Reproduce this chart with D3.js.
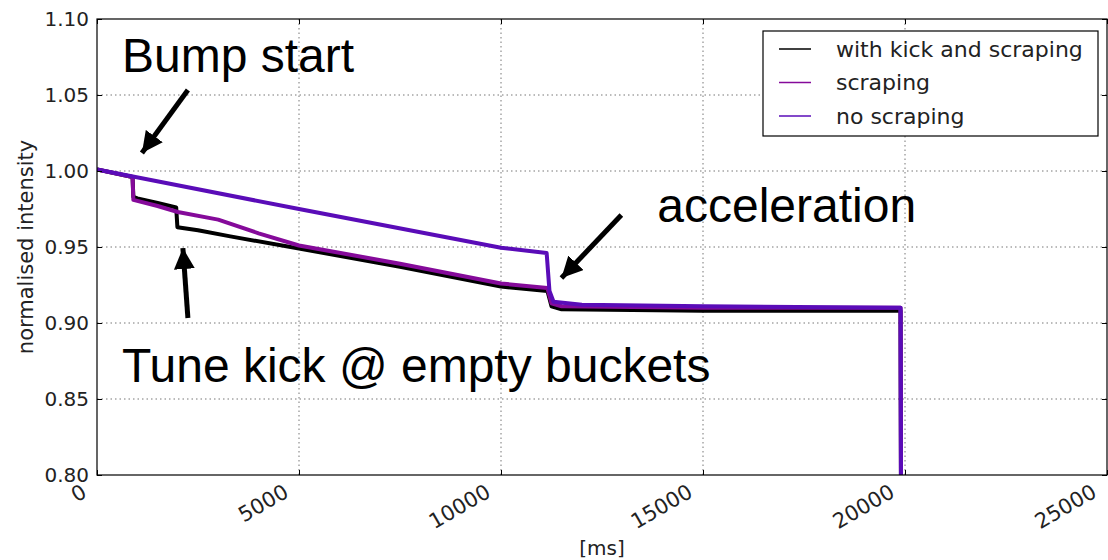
<!DOCTYPE html>
<html>
<head>
<meta charset="utf-8">
<script src="https://cdn.jsdelivr.net/npm/d3@7"></script>
<style>
  body { margin: 0; background: #fff; }
  svg { display: block; }
</style>
</head>
<body>
<script>
// series: [ms, normalised intensity]
const kickScraping = [
  [0, 1.001], [880, 0.996], [900, 0.983], [1000, 0.982], [1500, 0.979], [1960, 0.976],
  [1990, 0.963], [2500, 0.961], [3300, 0.957], [5000, 0.949], [7500, 0.937],
  [10000, 0.924], [11150, 0.921], [11250, 0.911], [11500, 0.909], [15000, 0.908],
  [19890, 0.908], [19900, 0.80]
];
const scraping = [
  [0, 1.001], [880, 0.996], [900, 0.981], [1500, 0.977], [2000, 0.973], [3000, 0.968],
  [4000, 0.959], [5000, 0.951], [7500, 0.939], [10000, 0.926], [11150, 0.923],
  [11250, 0.913], [11500, 0.911], [15000, 0.910], [19890, 0.910], [19900, 0.80]
];
const noScraping = [
  [0, 1.001], [5000, 0.975], [10000, 0.9495], [11130, 0.946], [11200, 0.921],
  [11300, 0.914], [12000, 0.912], [15000, 0.911], [19890, 0.910], [19900, 0.80]
];

const seriesNames = ["with kick and scraping", "scraping", "no scraping"];
const seriesColors = ["#000000", "#850a9a", "#5a0cb8"];
const xTicks = [0, 5000, 10000, 15000, 20000, 25000];
const yTicks = [0.80, 0.85, 0.90, 0.95, 1.00, 1.05, 1.10];

// annotations: text anchor and arrows (tail -> tip) in data units
const notes = [
  { text: "Bump start", at: [618, 1.0651] },
  { text: "acceleration", at: [13869, 0.9664] },
  { text: "Tune kick @ empty buckets", at: [618, 0.8612] }
];
const arrows = [
  { from: [2250, 1.0533], to: [1112, 1.0118] },
  { from: [12979, 0.971], to: [11496, 0.9296] },
  { from: [2250, 0.9033], to: [2126, 0.9493] }
];

const W = 1108, H = 560;
const pLeft = 97, pRight = 1107, pTop = 19, pBottom = 475;

const svg = d3.select("body").append("svg")
    .attr("width", W)
    .attr("height", H);

const x = d3.scaleLinear().domain([0, 25000]).range([pLeft, pRight]);
const y = d3.scaleLinear().domain([0.80, 1.10]).range([pBottom, pTop]);

const defs = svg.append("defs");
defs.append("clipPath").attr("id", "clip")
  .append("rect")
    .attr("x", pLeft).attr("y", pTop)
    .attr("width", pRight - pLeft).attr("height", pBottom - pTop);

// grid
let grid = svg.append("g").attr("stroke", "#777").attr("stroke-dasharray", "1.5,3").attr("stroke-width", 1);
grid.selectAll(".vg").data(xTicks.slice(1, -1)).enter().append("line")
    .attr("x1", d => x(d)).attr("x2", d => x(d))
    .attr("y1", pTop).attr("y2", pBottom);
grid.selectAll(".hg").data(yTicks.slice(1, -1)).enter().append("line")
    .attr("x1", pLeft).attr("x2", pRight)
    .attr("y1", d => y(d)).attr("y2", d => y(d));

// lines
const line = d3.line().x(d => x(d[0])).y(d => y(d[1]));
let plot = svg.append("g").attr("clip-path", "url(#clip)");
[kickScraping, scraping, noScraping].forEach((s, i) => {
  plot.append("path")
      .datum(s)
      .attr("d", line)
      .attr("fill", "none")
      .attr("stroke", seriesColors[i])
      .attr("stroke-width", 4)
      .attr("stroke-linejoin", "round");
});

// axes (ticks inward on all sides)
const tickLen = 5;
svg.append("g").attr("transform", `translate(0,${pBottom})`)
    .call(d3.axisTop(x).tickValues(xTicks).tickSize(tickLen).tickFormat(""))
    .call(g => g.select(".domain").remove());
svg.append("g").attr("transform", `translate(0,${pTop})`)
    .call(d3.axisBottom(x).tickValues(xTicks).tickSize(tickLen).tickFormat(""))
    .call(g => g.select(".domain").remove());
svg.append("g").attr("transform", `translate(${pLeft},0)`)
    .call(d3.axisRight(y).tickValues(yTicks).tickSize(tickLen).tickFormat(""))
    .call(g => g.select(".domain").remove());
svg.append("g").attr("transform", `translate(${pRight},0)`)
    .call(d3.axisLeft(y).tickValues(yTicks).tickSize(tickLen).tickFormat(""))
    .call(g => g.select(".domain").remove());

svg.append("rect")
    .attr("x", pLeft).attr("y", pTop)
    .attr("width", pRight - pLeft).attr("height", pBottom - pTop)
    .attr("fill", "none").attr("stroke", "#000").attr("stroke-width", 1.2);

// tick labels
const tickFont = "DejaVu Sans";
svg.append("g").selectAll("text").data(yTicks).enter().append("text")
    .attr("x", pLeft - 8)
    .attr("y", d => y(d))
    .attr("dy", "0.36em")
    .attr("text-anchor", "end")
    .style("font-family", tickFont).style("font-size", "20px").style("fill", "#222")
    .text(d => d3.format(".2f")(d));

svg.append("g").selectAll("text").data(xTicks).enter().append("text")
    .attr("transform", d => `translate(${x(d) - 9},${pBottom + 21}) rotate(-30)`)
    .attr("text-anchor", "end")
    .style("font-family", tickFont).style("font-size", "21px").style("fill", "#222")
    .text(d => d);

// axis titles
svg.append("text")
    .attr("x", (pLeft + pRight) / 2).attr("y", 555)
    .attr("text-anchor", "middle")
    .style("font-family", tickFont).style("font-size", "20px").style("fill", "#222")
    .text("[ms]");
svg.append("text")
    .attr("transform", `translate(33,${(pTop + pBottom) / 2}) rotate(-90)`)
    .attr("text-anchor", "middle")
    .style("font-family", tickFont).style("font-size", "21px").style("fill", "#222")
    .text("normalised intensity");

// legend
let legend = svg.append("g");
legend.append("rect")
    .attr("x", 763).attr("y", 31).attr("width", 335).attr("height", 105)
    .attr("fill", "#fff").attr("stroke", "#000").attr("stroke-width", 1.2);
seriesNames.forEach((name, i) => {
  const ry = 49 + i * 33.5;
  legend.append("line")
      .attr("x1", 779).attr("x2", 811).attr("y1", ry).attr("y2", ry)
      .attr("stroke", seriesColors[i]).attr("stroke-width", 1.5);
  legend.append("text")
      .attr("x", 836).attr("y", ry).attr("dy", "0.35em")
      .style("font-family", tickFont).style("font-size", "22px").style("fill", "#222")
      .text(name);
});

// annotations
defs.append("marker")
    .attr("id", "head")
    .attr("viewBox", "0 0 10 10")
    .attr("refX", 10).attr("refY", 5)
    .attr("markerWidth", 4.2).attr("markerHeight", 4.2)
    .attr("markerUnits", "strokeWidth")
    .attr("orient", "auto")
  .append("path")
    .attr("d", "M0,0 L10,5 L0,10 Z")
    .attr("fill", "#000");

svg.append("g").selectAll("line").data(arrows).enter().append("line")
    .attr("x1", d => x(d.from[0])).attr("y1", d => y(d.from[1]))
    .attr("x2", d => x(d.to[0])).attr("y2", d => y(d.to[1]))
    .attr("stroke", "#000").attr("stroke-width", 5)
    .attr("marker-end", "url(#head)");

svg.append("g").selectAll("text").data(notes).enter().append("text")
    .attr("x", d => x(d.at[0])).attr("y", d => y(d.at[1]))
    .style("font-family", "Liberation Sans, Arial, sans-serif")
    .style("font-size", "48px").style("fill", "#000")
    .text(d => d.text);
</script>
</body>
</html>
